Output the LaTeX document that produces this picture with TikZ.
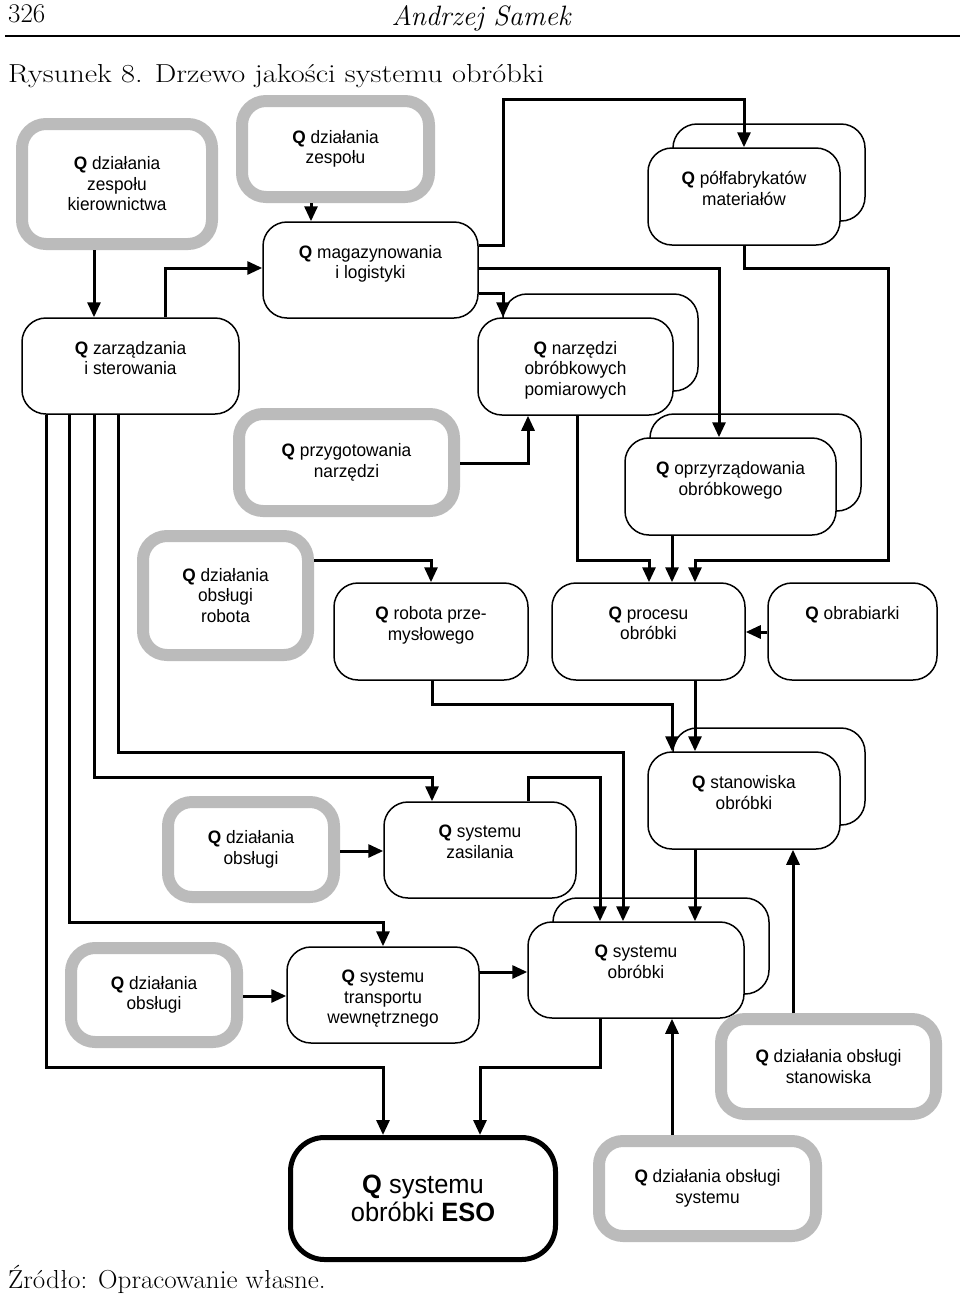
\documentclass[tikz,border=0pt]{standalone}
\usepackage{graphicx}
\usepackage{fontspec}
\newfontfamily\boxfont[FakeStretch=0.96]{Liberation Sans}
\usetikzlibrary{arrows.meta,shadows}

\definecolor{actgray}{RGB}{187,187,187}

\begin{document}
\begin{tikzpicture}[x=1pt,y=-1pt]
\tikzset{
  qbox/.style={rectangle,rounded corners=24pt,draw=black,line width=1.5pt,fill=white,align=center,inner sep=2pt,font=\boxfont\fontsize{18}{20.5}\selectfont},
  qstack/.style={qbox,copy shadow={shadow xshift=25pt,shadow yshift=24pt}},
  actbox/.style={qbox,draw=actgray,line width=12pt},
  topbox/.style={qbox,line width=5pt,rounded corners=34pt,font=\boxfont\fontsize{26.5}{28}\selectfont},
  flow/.style={draw=black,line width=3pt,-{Triangle[length=15pt,width=13pt]}},
  serif/.style={inner sep=0pt,anchor=base west}
}
\useasboundingbox (0,0) rectangle (960,1299);

% header and caption
\node[serif,font=\fontsize{27}{30}\selectfont] (t_page) at (8,22) {326};
\node[inner sep=0pt,anchor=base,font=\itshape\fontsize{28}{32}\selectfont] (t_author) at (481,25) {Andrzej Samek};
\draw[line width=2pt] (5,36) -- (960,36);
\node[serif,font=\fontsize{26}{30}\selectfont] (t_title) at (8,82) {\scalebox{1.17}[1]{Rysunek 8. Drzewo jakości systemu obróbki}};
\node[serif,font=\fontsize{26}{30}\selectfont] (t_source) at (8,1288) {\scalebox{1.04}[1]{Źródło: Opracowanie własne.}};

% quality areas
\node[qbox,minimum width=215pt,minimum height=96pt] (n_mag) at (370.5,270) {\textbf{Q} magazynowania\\i logistyki\\[-4pt]\mbox{}};
\node[qstack,minimum width=192pt,minimum height=97pt] (n_pol) at (744,196.5) {\textbf{Q} półfabrykatów\\materiałów\\[-4pt]\mbox{}};
\node[qbox,minimum width=217pt,minimum height=96pt] (n_zarz) at (130.5,366) {\textbf{Q} zarządzania\\i sterowania\\[-4pt]\mbox{}};
\node[qstack,minimum width=195pt,minimum height=97pt] (n_narz) at (575.5,366.5) {\rule{0pt}{20pt}\textbf{Q} narzędzi\\obróbkowych\\pomiarowych};
\node[qstack,minimum width=211pt,minimum height=97pt] (n_opr) at (730.5,486.5) {\textbf{Q} oprzyrządowania\\obróbkowego\\[-4pt]\mbox{}};
\node[qbox,minimum width=194pt,minimum height=97pt] (n_rob) at (431,631.5) {\textbf{Q} robota prze-\\mysłowego\\[-4pt]\mbox{}};
\node[qbox,minimum width=193pt,minimum height=97pt] (n_proc) at (648.5,631.5) {\textbf{Q} procesu\\obróbki\\[-4pt]\mbox{}};
\node[qbox,minimum width=169pt,minimum height=97pt] (n_obr) at (852.5,631.5) {\textbf{Q} obrabiarki\\\mbox{}\\[-4pt]\mbox{}};
\node[qstack,minimum width=192pt,minimum height=97pt] (n_stan) at (744,800.5) {\textbf{Q} stanowiska\\obróbki\\[-4pt]\mbox{}};
\node[qbox,minimum width=192pt,minimum height=96pt] (n_zas) at (480,850) {\textbf{Q} systemu\\zasilania\\[-4pt]\mbox{}};
\node[qbox,minimum width=192pt,minimum height=96pt] (n_trans) at (383,995) {\rule{0pt}{20pt}\textbf{Q} systemu\\transportu\\wewnętrznego};
\node[qstack,minimum width=216pt,minimum height=96pt] (n_sys) at (636,970) {\textbf{Q} systemu\\obróbki\\[-4pt]\mbox{}};

% human actions
\node[actbox,minimum width=190pt,minimum height=120pt] (n_dzk) at (117,184) {\textbf{Q} działania\\zespołu\\kierownictwa};
\node[actbox,minimum width=187pt,minimum height=96pt] (n_dzz) at (335.5,149) {\textbf{Q} działania\\zespołu};
\node[actbox,minimum width=215pt,minimum height=97pt] (n_prz) at (346.5,462.5) {\textbf{Q} przygotowania\\narzędzi};
\node[actbox,minimum width=165pt,minimum height=119pt] (n_dzr) at (225.5,595.5) {\textbf{Q} działania\\obsługi\\robota};
\node[actbox,minimum width=166pt,minimum height=95pt] (n_dzo1) at (251,849.5) {\textbf{Q} działania\\obsługi};
\node[actbox,minimum width=166pt,minimum height=94pt] (n_dzo2) at (154,995) {\textbf{Q} działania\\obsługi};
\node[actbox,minimum width=215pt,minimum height=95pt] (n_dzs) at (828.5,1066.5) {\textbf{Q} działania obsługi\\stanowiska};
\node[actbox,minimum width=217pt,minimum height=95pt] (n_dzy) at (707.5,1188.5) {\textbf{Q} działania obsługi\\systemu};

% root
\node[topbox,minimum width=265pt,minimum height=122pt] (n_eso) at (423,1198.5) {\textbf{Q} systemu\\obróbki \textbf{ESO}};

% connectors
\draw[flow] (n_dzk.south -| 94,0) -- (n_zarz.north -| 94,0);
\draw[flow] (n_zarz.north -| 165,0) |- (n_mag.west |- 0,268);
\draw[flow] (n_dzz.south -| 311,0) -- (n_mag.north -| 311,0);
\draw[flow] (n_mag.east |- 0,245) -| (503,99) -| (n_pol.north);
\draw[flow] (n_mag.east |- 0,268) -| (n_opr.north -| 719,0);
\draw[flow] (n_mag.east |- 0,293) -| (n_narz.north -| 503,0);
\draw[flow] (n_pol.south) |- (888,268) |- (695,560) -- (n_proc.north -| 695,0);
\draw[flow] (n_narz.south -| 577,0) |- (649,560) -- (n_proc.north -| 649,0);
\draw[flow] (n_opr.south -| 672,0) -- (n_proc.north -| 672,0);
\draw[flow] (n_prz.east |- 0,463) -| (n_narz.south -| 528,0);
\draw[flow] (n_dzr.east |- 0,560) -| (n_rob.north);
\draw[flow] (n_obr.west |- 0,632) -- (n_proc.east |- 0,632);
\draw[flow] (n_rob.south -| 432,0) |- (672,704) -- (n_stan.north -| 672,0);
\draw[flow] (n_proc.south -| 695,0) -- (n_stan.north -| 695,0);
\draw[flow] (n_zarz.south -| 118,0) |- (623,752) -- (n_sys.north -| 623,0);
\draw[flow] (n_zarz.south -| 94,0) |- (432,777) -- (n_zas.north -| 432,0);
\draw[flow] (n_zarz.south -| 69,0) |- (383,922) -- (n_trans.north);
\draw[flow] (n_zarz.south -| 46,0) |- (383,1067) -- (n_eso.north -| 383,0);
\draw[flow] (n_dzo1.east |- 0,851) -- (n_zas.west |- 0,851);
\draw[flow] (n_zas.north -| 528,0) |- (600,777) -- (n_sys.north -| 600,0);
\draw[flow] (n_stan.south -| 695,0) -- (n_sys.north -| 695,0);
\draw[flow] (n_dzo2.east |- 0,996) -- (n_trans.west |- 0,996);
\draw[flow] (n_trans.east |- 0,972) -- (n_sys.west |- 0,972);
\draw[flow] (n_sys.south -| 600,0) |- (480,1067) -- (n_eso.north -| 480,0);
\draw[flow] (n_dzy.north -| 672,0) -- (n_sys.south -| 672,0);
\draw[flow] (n_dzs.north -| 793,0) -- (n_stan.south -| 793,0);
\end{tikzpicture}
\end{document}
